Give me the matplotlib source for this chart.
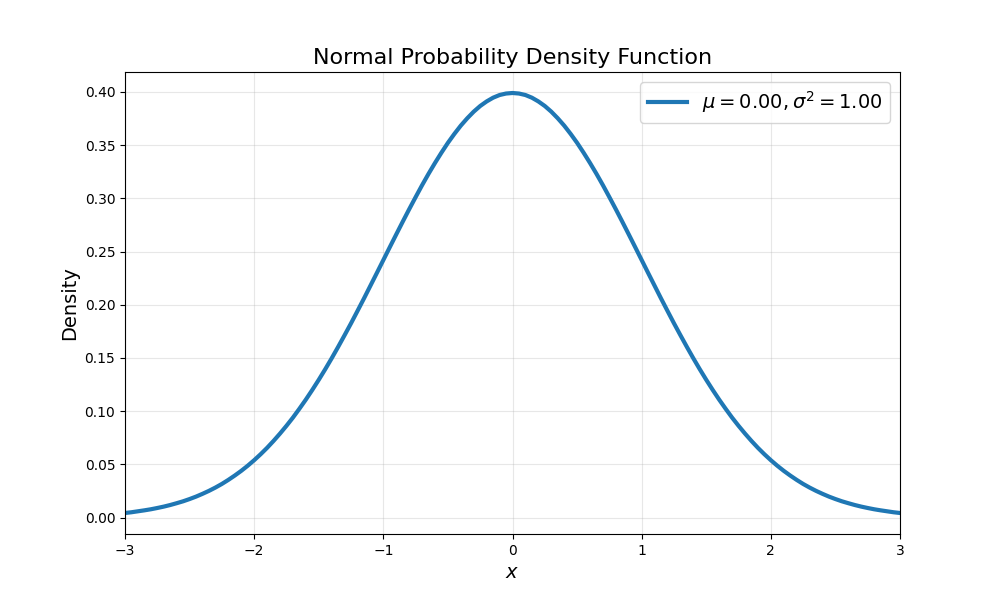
import matplotlib
matplotlib.use('Agg')
import matplotlib.pyplot as plt

# values, x from -3 to 3 in steps of 0.05
x_values = [round(-3 + 0.05 * i, 2) for i in range(121)]
right_half = [0.3989, 0.3984, 0.3970, 0.3945, 0.3910, 0.3867, 0.3814, 0.3752,
              0.3683, 0.3605, 0.3521, 0.3429, 0.3332, 0.3230, 0.3123, 0.3011,
              0.2897, 0.2780, 0.2661, 0.2541, 0.2420, 0.2299, 0.2179, 0.2059,
              0.1942, 0.1826, 0.1714, 0.1604, 0.1497, 0.1394, 0.1295, 0.1200,
              0.1109, 0.1023, 0.0940, 0.0863, 0.0790, 0.0721, 0.0656, 0.0596,
              0.0540, 0.0488, 0.0440, 0.0396, 0.0355, 0.0317, 0.0283, 0.0252,
              0.0224, 0.0198, 0.0175, 0.0154, 0.0136, 0.0119, 0.0104, 0.0091,
              0.0079, 0.0069, 0.0060, 0.0051, 0.0044]
density = right_half[:0:-1] + right_half

mu = 0.0
sigma2 = 1.0

fig, ax = plt.subplots(figsize=(10, 6), dpi=100)
ax.plot(x_values, density, color='#1f77b4', linewidth=3,
        label=r'$\mu = %.2f, \sigma^2 = %.2f$' % (mu, sigma2))
ax.set_xlim(-3, 3)
ax.set_title('Normal Probability Density Function', fontsize=16)
ax.set_xlabel(r'$x$', fontsize=14)
ax.set_ylabel('Density', fontsize=14)
ax.grid(True, alpha=0.3)
ax.legend(fontsize=14)

fig.savefig('out.png', dpi=100)
